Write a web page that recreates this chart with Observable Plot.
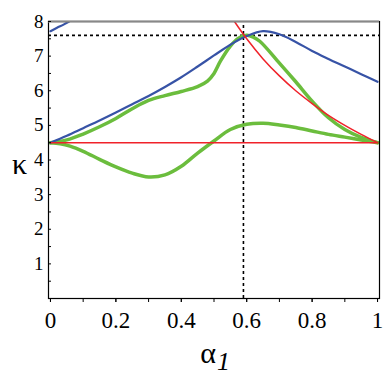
<!DOCTYPE html>
<html>
<head>
<meta charset="utf-8">
<script src="https://cdn.jsdelivr.net/npm/d3@7"></script>
<script src="https://cdn.jsdelivr.net/npm/@observablehq/plot@0.6"></script>
<style>
  html, body { margin: 0; padding: 0; background: #fff; }
</style>
</head>
<body>
<div id="chart"></div>
<script>
// ---- data ----
const blueX = [0, 0.05, 0.1, 0.15, 0.2, 0.25, 0.3, 0.35, 0.4, 0.45, 0.5, 0.55, 0.6, 0.65, 0.7, 0.75, 0.8, 0.85, 0.9, 0.95, 1];
const blueY = [4.5, 4.7, 4.92, 5.14, 5.37, 5.61, 5.85, 6.11, 6.39, 6.7, 7.02, 7.33, 7.58, 7.72, 7.63, 7.41, 7.15, 6.92, 6.7, 6.48, 6.26];
const blueTopX = [0, 0.02, 0.04, 0.057];
const blueTopY = [7.72, 7.82, 7.91, 8.0];

const redX = [0.5625, 0.6, 0.65, 0.7, 0.75, 0.8, 0.85, 0.9, 0.95, 1];
const redY = [8.0, 7.5, 6.92, 6.43, 6.0, 5.63, 5.29, 5.0, 4.74, 4.5];
const redFlatX = [0, 1];
const redFlatY = [4.5, 4.5];

const greenUpX = [0, 0.05, 0.1, 0.15, 0.2, 0.25, 0.3, 0.35, 0.4, 0.45, 0.48, 0.5, 0.52, 0.55, 0.575, 0.6, 0.62, 0.64, 0.7, 0.75, 0.8, 0.85, 0.9, 0.95, 1];
const greenUpY = [4.5, 4.58, 4.75, 4.96, 5.2, 5.48, 5.72, 5.86, 5.98, 6.12, 6.28, 6.5, 6.86, 7.29, 7.52, 7.6, 7.55, 7.43, 6.8, 6.26, 5.7, 5.22, 4.88, 4.65, 4.5];

const greenLoX = [0, 0.03, 0.06, 0.1, 0.15, 0.2, 0.25, 0.3, 0.35, 0.4, 0.45, 0.5, 0.55, 0.6, 0.65, 0.7, 0.75, 0.8, 0.85, 0.9, 0.95, 1];
const greenLoY = [4.5, 4.47, 4.4, 4.25, 4.02, 3.8, 3.62, 3.51, 3.57, 3.82, 4.2, 4.55, 4.88, 5.03, 5.06, 5.01, 4.94, 4.84, 4.74, 4.66, 4.58, 4.5];

const dotLevelY = [7.6];
const dotLevelX = [0.59];

const xMajor = [0, 0.2, 0.4, 0.6, 0.8, 1];
const xMinor = [0, 0.1, 0.2, 0.3, 0.4, 0.5, 0.6, 0.7, 0.8, 0.9, 1];
const yMajor = [1, 2, 3, 4, 5, 6, 7, 8];
const yMinor = [0.5, 1, 1.5, 2, 2.5, 3, 3.5, 4, 4.5, 5, 5.5, 6, 6.5, 7, 7.5, 8];

const xTitle = "α";
const xTitleSub = "1";
const yTitle = "κ";

const pts = (xs, ys) => xs.map((x, i) => ({x, y: ys[i]}));

const BLUE = "#3753a6";
const RED = "#f0222a";
const GREEN = "#6bbd3d";
const SERIF = "Liberation Serif";

const chart = Plot.plot({
  width: 390,
  height: 390,
  marginLeft: 48,
  marginRight: 11,
  marginTop: 21,
  marginBottom: 92,
  style: "font-family: 'Liberation Serif', serif; background: #fff; color: #000;",
  x: {domain: [-0.006, 1.006]},
  y: {domain: [0, 8]},
  marks: [
    Plot.ruleY(dotLevelY, {stroke: "#000", strokeWidth: 1.6, strokeDasharray: "3,3"}),
    Plot.ruleX(dotLevelX, {y1: 0, y2: 8, stroke: "#000", strokeWidth: 1.6, strokeDasharray: "3,3"}),
    Plot.line(pts(greenLoX, greenLoY), {x: "x", y: "y", stroke: GREEN, strokeWidth: 3.5, curve: "catmull-rom", clip: true}),
    Plot.line(pts(greenUpX, greenUpY), {x: "x", y: "y", stroke: GREEN, strokeWidth: 3.5, curve: "catmull-rom", clip: true}),
    Plot.line(pts(blueX, blueY), {x: "x", y: "y", stroke: BLUE, strokeWidth: 2.2, curve: "catmull-rom", clip: true}),
    Plot.line(pts(blueTopX, blueTopY), {x: "x", y: "y", stroke: BLUE, strokeWidth: 2.2, curve: "catmull-rom", clip: true}),
    Plot.line(pts(redFlatX, redFlatY), {x: "x", y: "y", stroke: RED, strokeWidth: 1.5, clip: true}),
    Plot.line(pts(redX, redY), {x: "x", y: "y", stroke: RED, strokeWidth: 1.5, curve: "catmull-rom", clip: true}),
    Plot.frame({stroke: "#000", strokeWidth: 1.2}),
    Plot.ruleY([8], {stroke: "#888", strokeWidth: 2}),
    Plot.axisX(xMinor, {tickSize: 4, tickFormat: null, text: null, label: null, strokeWidth: 1}),
    Plot.axisX(xMajor, {tickSize: 4, tickPadding: 9, tickFormat: d => String(+d.toFixed(1)), fontSize: 23, fontFamily: SERIF, label: null}),
    Plot.axisY(yMinor, {tickSize: 3, dx: 3, text: null, tickFormat: null, label: null}),
    Plot.axisY(yMajor, {tickSize: 0, tickPadding: 5, tickFormat: d => String(d), fontSize: 19, fontFamily: SERIF, label: null}),
    Plot.text([yTitle], {text: d => d, frameAnchor: "left", dx: -29, dy: 4, fontSize: 30, fontFamily: SERIF, textAnchor: "middle"}),
    Plot.text([xTitle], {text: d => d, frameAnchor: "bottom", dx: 2, dy: 64, lineAnchor: "bottom", fontSize: 30, fontFamily: SERIF, textAnchor: "end"}),
    Plot.text([xTitleSub], {text: d => d, frameAnchor: "bottom", dx: 3, dy: 71, lineAnchor: "bottom", fontSize: 26, fontFamily: SERIF, fontStyle: "italic", textAnchor: "start"})
  ]
});
document.getElementById("chart").appendChild(chart);
</script>
</body>
</html>
